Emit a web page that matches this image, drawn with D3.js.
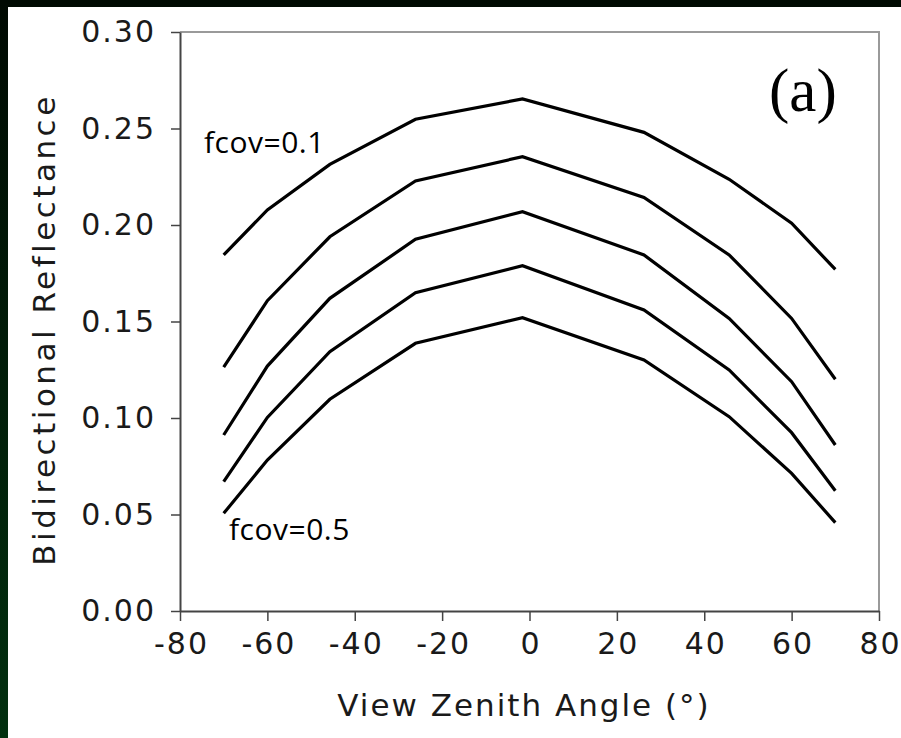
<!DOCTYPE html>
<html><head><meta charset="utf-8">
<script src="https://cdn.jsdelivr.net/npm/d3@7"></script>
<style>html,body{margin:0;padding:0;background:#000;}svg{display:block;}</style>
</head><body>
<svg id="c" width="901" height="738"></svg>
<script>
const angles = [-70, -60, -45.7, -26.1, -1.6, 26.2, 45.7, 60, 70];
const fcov01 = [0.1845, 0.2078, 0.2314, 0.2548, 0.2653, 0.2480, 0.2237, 0.2009, 0.1770];
const fcov02 = [0.1263, 0.1608, 0.1939, 0.2228, 0.2354, 0.2143, 0.1845, 0.1516, 0.1201];
const fcov03 = [0.0912, 0.1269, 0.1620, 0.1926, 0.2069, 0.1845, 0.1516, 0.1188, 0.0860];
const fcov04 = [0.0670, 0.1003, 0.1344, 0.1649, 0.1789, 0.1560, 0.1249, 0.0924, 0.0623];
const fcov05 = [0.0506, 0.0782, 0.1097, 0.1387, 0.1520, 0.1301, 0.1007, 0.0713, 0.0458];
const seriesList = [fcov01, fcov02, fcov03, fcov04, fcov05];
const xTicks = [-80, -60, -40, -20, 0, 20, 40, 60, 80];
const yTicks = [0, 0.05, 0.10, 0.15, 0.20, 0.25, 0.30];
const xTitle = "View Zenith Angle (°)";
const yTitle = "Bidirectional Reflectance";
const panelLabel = "(a)";
const topLabel = "fcov=0.1";
const bottomLabel = "fcov=0.5";

const svg = d3.select("#c");
const defs = svg.append("defs");
const g1 = defs.append("linearGradient").attr("id","bg").attr("x1",0).attr("y1",0).attr("x2",0).attr("y2",1);
g1.append("stop").attr("offset","0%").attr("stop-color","#000a02");
g1.append("stop").attr("offset","100%").attr("stop-color","#02300f");
svg.append("rect").attr("width",901).attr("height",738).attr("fill","url(#bg)");
svg.append("rect").attr("x",8).attr("y",7).attr("width",893).attr("height",731).attr("fill","#fff");

const L = 180, R = 879, T = 32, B = 611;
const x = d3.scaleLinear().domain([-80, 80]).range([L, R]);
const y = d3.scaleLinear().domain([0, 0.30]).range([B, T]);

svg.append("path").attr("d", `M${L},${T}H${R}V${B}`).attr("fill","none").attr("stroke","#9a9a9a").attr("stroke-width",2);

const font = "'DejaVu Sans', Verdana, sans-serif";
const yAxis = svg.append("g").attr("transform",`translate(${L},0)`)
  .call(d3.axisLeft(y).tickValues(yTicks).tickFormat(d3.format(".2f")).tickSizeOuter(0).tickSizeInner(9).tickPadding(17));
const xAxis = svg.append("g").attr("transform",`translate(0,${B})`)
  .call(d3.axisBottom(x).tickValues(xTicks).tickFormat(d=>d).tickSizeOuter(0).tickSizeInner(10).tickPadding(12));
[yAxis, xAxis].forEach(a=>{
  a.select(".domain").attr("stroke","#444").attr("stroke-width",2);
  a.selectAll(".tick line").attr("stroke","#444").attr("stroke-width",1.5);
  a.selectAll("text").attr("fill","#1a1a1a").style("font-family",font).style("font-size","30px").style("letter-spacing","2px");
});
yAxis.selectAll("text").attr("dx","2");
xAxis.selectAll("text").attr("dy","0.71em").attr("dx","1");

svg.append("text").attr("x",524).attr("y",716).attr("text-anchor","middle")
  .style("font-family",font).style("font-size","31px").style("letter-spacing","2px").attr("fill","#1a1a1a").text(xTitle);
svg.append("text").attr("transform",`translate(55,${(T+B)/2+8}) rotate(-90)`).attr("text-anchor","middle")
  .style("font-family",font).style("font-size","31px").style("letter-spacing","3.5px").attr("fill","#1a1a1a").text(yTitle);

const line = d3.line().x((d,i)=>x(angles[i])).y(d=>y(d));
svg.append("g").selectAll("path").data(seriesList).join("path")
  .attr("d", line).attr("fill","none").attr("stroke","#000").attr("stroke-width",3.2).attr("stroke-linejoin","miter");

const lab = "'Open Sans', 'Noto Sans', sans-serif";
svg.append("text").attr("x",204).attr("y",153).style("font-family",lab).style("font-size","30px").style("letter-spacing","0.5px").attr("fill","#000").text(topLabel);
svg.append("text").attr("x",229).attr("y",540).style("font-family",lab).style("font-size","30px").style("letter-spacing","0.5px").attr("fill","#000").text(bottomLabel);
svg.append("text").attr("x",769).attr("y",111).style("font-family","'Liberation Serif', 'Times New Roman', serif").style("font-size","61px").attr("fill","#000").text(panelLabel);
</script>
</body></html>
